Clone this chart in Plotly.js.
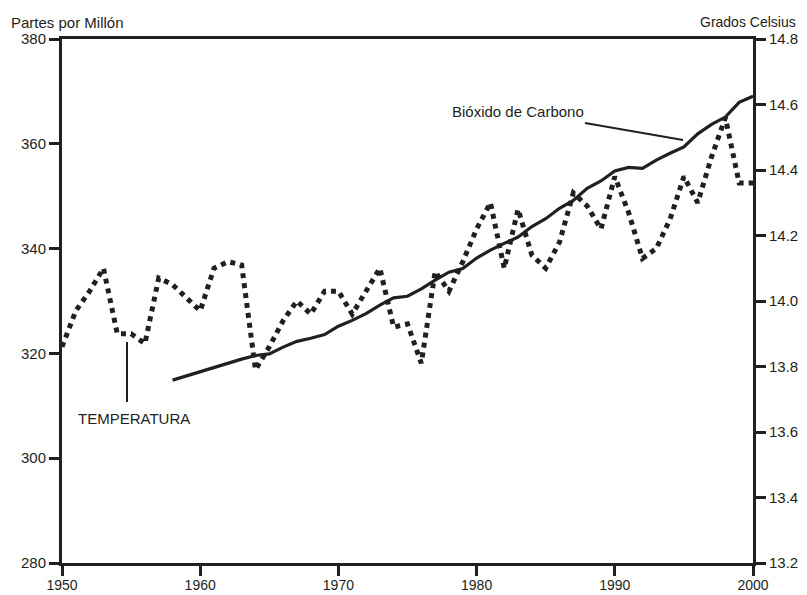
<!DOCTYPE html>
<html>
<head>
<meta charset="utf-8">
<script src="https://cdn.plot.ly/plotly-3.0.1.min.js"></script>
<style>
  html, body { margin: 0; padding: 0; background: #ffffff; }
  #chart { width: 807px; height: 595px; }
</style>
</head>
<body>
<div id="chart"></div>
<script>
// ---- Data ----
const tempYears = [1950,1951,1952,1953,1954,1955,1956,1957,1958,1959,
                   1960,1961,1962,1963,1964,1965,1966,1967,1968,1969,
                   1970,1971,1972,1973,1974,1975,1976,1977,1978,1979,
                   1980,1981,1982,1983,1984,1985,1986,1987,1988,1989,
                   1990,1991,1992,1993,1994,1995,1996,1997,1998,1999,2000];
const tempValues = [13.86,13.97,14.03,14.10,13.90,13.90,13.87,14.07,14.05,14.01,
                    13.97,14.10,14.12,14.11,13.79,13.86,13.94,14.00,13.96,14.03,
                    14.03,13.96,14.03,14.10,13.92,13.93,13.81,14.09,14.03,14.12,
                    14.22,14.30,14.10,14.28,14.14,14.10,14.18,14.33,14.29,14.22,
                    14.38,14.27,14.13,14.16,14.25,14.38,14.30,14.44,14.56,14.36,14.36];

const co2Years = [1958,1959,1960,1961,1962,1963,1964,1965,1966,1967,
                  1968,1969,1970,1971,1972,1973,1974,1975,1976,1977,
                  1978,1979,1980,1981,1982,1983,1984,1985,1986,1987,
                  1988,1989,1990,1991,1992,1993,1994,1995,1996,1997,
                  1998,1999,2000];
const co2Values = [314.9,315.7,316.5,317.3,318.2,318.9,319.6,319.9,321.2,322.3,
                   322.9,323.6,325.2,326.3,327.6,329.2,330.6,330.9,332.3,334.0,
                   335.5,336.2,338.2,339.7,341.0,342.2,344.2,345.7,347.7,349.2,
                   351.5,352.9,354.8,355.5,355.3,356.9,358.2,359.4,361.9,363.7,
                   365.1,367.9,369.1];

const xTicks = [1950,1960,1970,1980,1990,2000];
const ppmTicks = [280,300,320,340,360,380];
const celsiusTicks = [13.2,13.4,13.6,13.8,14.0,14.2,14.4,14.6,14.8];

const ink = '#231f20';
const FONT = 'Liberation Sans, Arial, Helvetica, sans-serif';

const traces = [
  {
    x: tempYears, y: tempValues, yaxis: 'y2', type: 'scatter', mode: 'lines',
    line: { color: ink, width: 5, dash: '5px,5px' },
    hoverinfo: 'skip', showlegend: false
  },
  {
    x: co2Years, y: co2Values, yaxis: 'y', type: 'scatter', mode: 'lines',
    line: { color: ink, width: 3.2 },
    hoverinfo: 'skip', showlegend: false
  }
];

const axisCommon = {
  showgrid: false, zeroline: false, showline: true,
  linecolor: ink, linewidth: 3,
  ticks: 'outside', ticklen: 10, tickwidth: 3, tickcolor: ink,
  tickfont: { family: FONT, size: 15, color: ink }
};

const layout = {
  width: 807, height: 595,
  margin: { l: 62, r: 54, t: 39, b: 32, pad: 0 },
  paper_bgcolor: '#ffffff', plot_bgcolor: '#ffffff',
  showlegend: false,
  xaxis: Object.assign({}, axisCommon, {
    range: [1950, 2000], tickvals: xTicks, mirror: true,
    tickfont: { family: FONT, size: 14, color: ink },
    ticklabelstandoff: -3
  }),
  yaxis: Object.assign({}, axisCommon, {
    range: [280, 380], tickvals: ppmTicks
  }),
  yaxis2: Object.assign({}, axisCommon, {
    range: [13.2, 14.8], tickvals: celsiusTicks, tickformat: '.1f',
    overlaying: 'y', side: 'right'
  }),
  shapes: [
    // leader for CO2 label
    { type: 'line', xref: 'paper', yref: 'paper',
      x0: (585-62)/691, y0: (563-123)/524, x1: (683-62)/691, y1: (563-140)/524,
      line: { color: ink, width: 2 } },
    // leader for temperature label
    { type: 'line', xref: 'paper', yref: 'paper',
      x0: (127-62)/691, y0: (563-342)/524, x1: (127-62)/691, y1: (563-402)/524,
      line: { color: ink, width: 2 } }
  ],
  annotations: [
    { text: 'Partes por Millón', xref: 'paper', yref: 'paper',
      x: (9-62)/691, y: (563-22)/524, xanchor: 'left', yanchor: 'middle',
      showarrow: false, font: { family: FONT, size: 15, color: ink } },
    { text: 'Grados Celsius', xref: 'paper', yref: 'paper',
      x: (798-62)/691, y: (563-22)/524, xanchor: 'right', yanchor: 'middle',
      showarrow: false, font: { family: FONT, size: 14, color: ink } },
    { text: 'Bióxido de Carbono', xref: 'paper', yref: 'paper',
      x: (518-62)/691, y: (563-112)/524, xanchor: 'center', yanchor: 'middle',
      showarrow: false, font: { family: FONT, size: 15, color: ink } },
    { text: 'TEMPERATURA', xref: 'paper', yref: 'paper',
      x: (134-62)/691, y: (563-418)/524, xanchor: 'center', yanchor: 'middle',
      showarrow: false, font: { family: FONT, size: 15, color: ink } }
  ]
};

Plotly.newPlot('chart', traces, layout, { displayModeBar: false, staticPlot: true });
</script>
</body>
</html>
